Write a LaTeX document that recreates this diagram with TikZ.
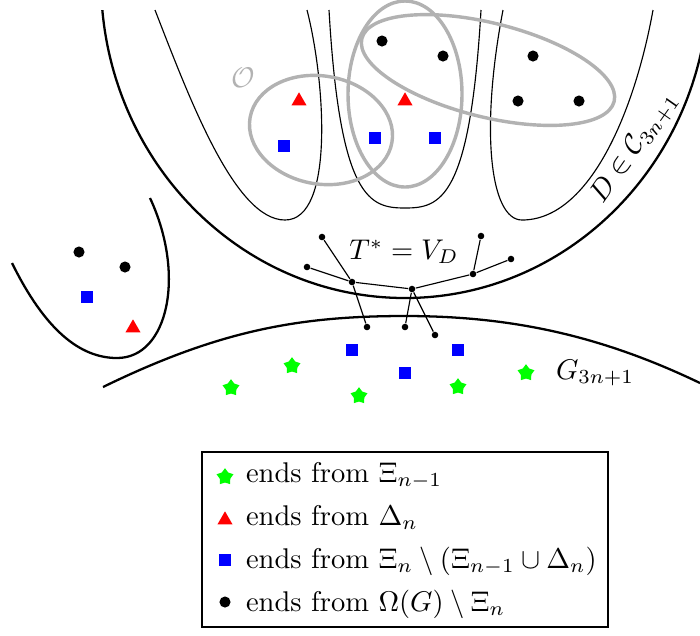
\documentclass[tikz,border=0pt]{standalone}
\usepackage{amsmath,amssymb}
\usepackage{xcolor}
\usepackage{tikz}
\usetikzlibrary{shapes.geometric}

\begin{document}
\begin{tikzpicture}[x=0.01233cm, y=-0.01233cm,
    curve/.style={thick},
    part/.style={thin},
    ring/.style={black!30, very thick},
    enddot/.style={circle, fill=black, inner sep=0pt, minimum size=3.9pt},
    endsq/.style={rectangle, fill=blue, inner sep=0pt, minimum size=4.2pt},
    endtri/.style={regular polygon, regular polygon sides=3, fill=red, inner sep=0pt, minimum size=6.1pt},
    endstar/.style={star, star points=5, star point ratio=1.6, fill=green, inner sep=0pt, minimum size=6.2pt},
    tdot/.style={circle, fill=black, inner sep=0pt, minimum size=2.3pt}]
  \useasboundingbox (0,0) rectangle (700,635);   % one unit = one pixel, y downwards
  % the component D and its parts
  \begin{scope}
    \clip (0,10) rectangle (700,635);
    \draw[curve] (405,-20) ellipse [x radius=304, y radius=318];
  \end{scope}
  \draw[part] (155,10) .. controls (190,100) and (235,220) .. (285,220) .. controls (335,220) and (325,80) .. (307,10);
  \draw[part] (329,10) .. controls (340,200) and (370,208) .. (405,208) .. controls (440,208) and (470,200) .. (481,10);
  \draw[part] (503,10) .. controls (480,130) and (490,220) .. (522,220) .. controls (590,220) and (635,110) .. (653,10);
  \draw[ring, rotate around={-10:(321,130)}] (321,130) ellipse [x radius=72, y radius=54];
  \draw[ring] (405,94) ellipse [x radius=57, y radius=93];
  \draw[ring, rotate around={-14:(488,70)}] (488,70) ellipse [x radius=130, y radius=47];
  % G_{3n+1} and the other component
  \draw[curve] (103,387) .. controls (220,330) and (300,316) .. (405,316) .. controls (510,316) and (600,335) .. (700,383);
  \draw[curve] (12,263) .. controls (45,330) and (80,358) .. (117,358) .. controls (168,358) and (186,275) .. (150,198);
  % ends
  \foreach \x/\y [count=\i] in {382/41, 443/56, 533/56, 518/101, 579/101, 79/252, 125/267}
    \node[enddot] (dot\i) at (\x,\y) {};
  \foreach \x/\y [count=\i] in {284/146, 375/138, 435/138, 87/297, 352/350, 405/373, 458/350}
    \node[endsq] (sq\i) at (\x,\y) {};
  \foreach \x/\y [count=\i] in {299/101, 405/101, 133/328}
    \node[endtri] (tri\i) at (\x,\y) {};
  \foreach \x/\y [count=\i] in {231/388, 292/366, 359/396, 458/387, 526/373}
    \node[endstar] (star\i) at (\x,\y) {};
  % the tree T^*
  \foreach \x/\y [count=\i] in {322/237, 307/267, 352/282, 412/289, 473/274, 481/236, 511/259, 367/327, 405/327, 435/335}
    \node[tdot] (t\i) at (\x,\y) {};
  \foreach \a/\b in {1/3, 3/8, 2/3, 3/4, 4/5, 5/6, 5/7, 4/9, 4/10}
    \draw (t\a) -- (t\b);
  % labels
  \node[black!30] (olab) at (243,78) {$\mathcal{O}$};
  \node (tlab) at (404,252) {$T^* = V_D$};
  \node[rotate=55] (dlab) at (635,148) {$D \in \mathcal{C}_{3n+1}$};
  \node[anchor=west] (glab) at (546,373) {$G_{3n+1}$};
  % legend
  \draw (202,452) rectangle (608,627);
  \node[endstar] (kstar) at (225,477) {};
  \node[endtri] (ktri) at (225,520) {};
  \node[endsq] (ksq) at (225,560) {};
  \node[enddot] (kdot) at (225,602) {};
  \node[anchor=base west] (kstartxt) at (236,482) {ends from $\Xi_{n-1}$};
  \node[anchor=base west] (ktritxt) at (236,525) {ends from $\Delta_n$};
  \node[anchor=base west] (ksqtxt) at (236,568) {ends from $\Xi_n \setminus (\Xi_{n-1} \cup \Delta_n)$};
  \node[anchor=base west] (kdottxt) at (236,611) {ends from $\Omega(G) \setminus \Xi_n$};
\end{tikzpicture}
\end{document}
